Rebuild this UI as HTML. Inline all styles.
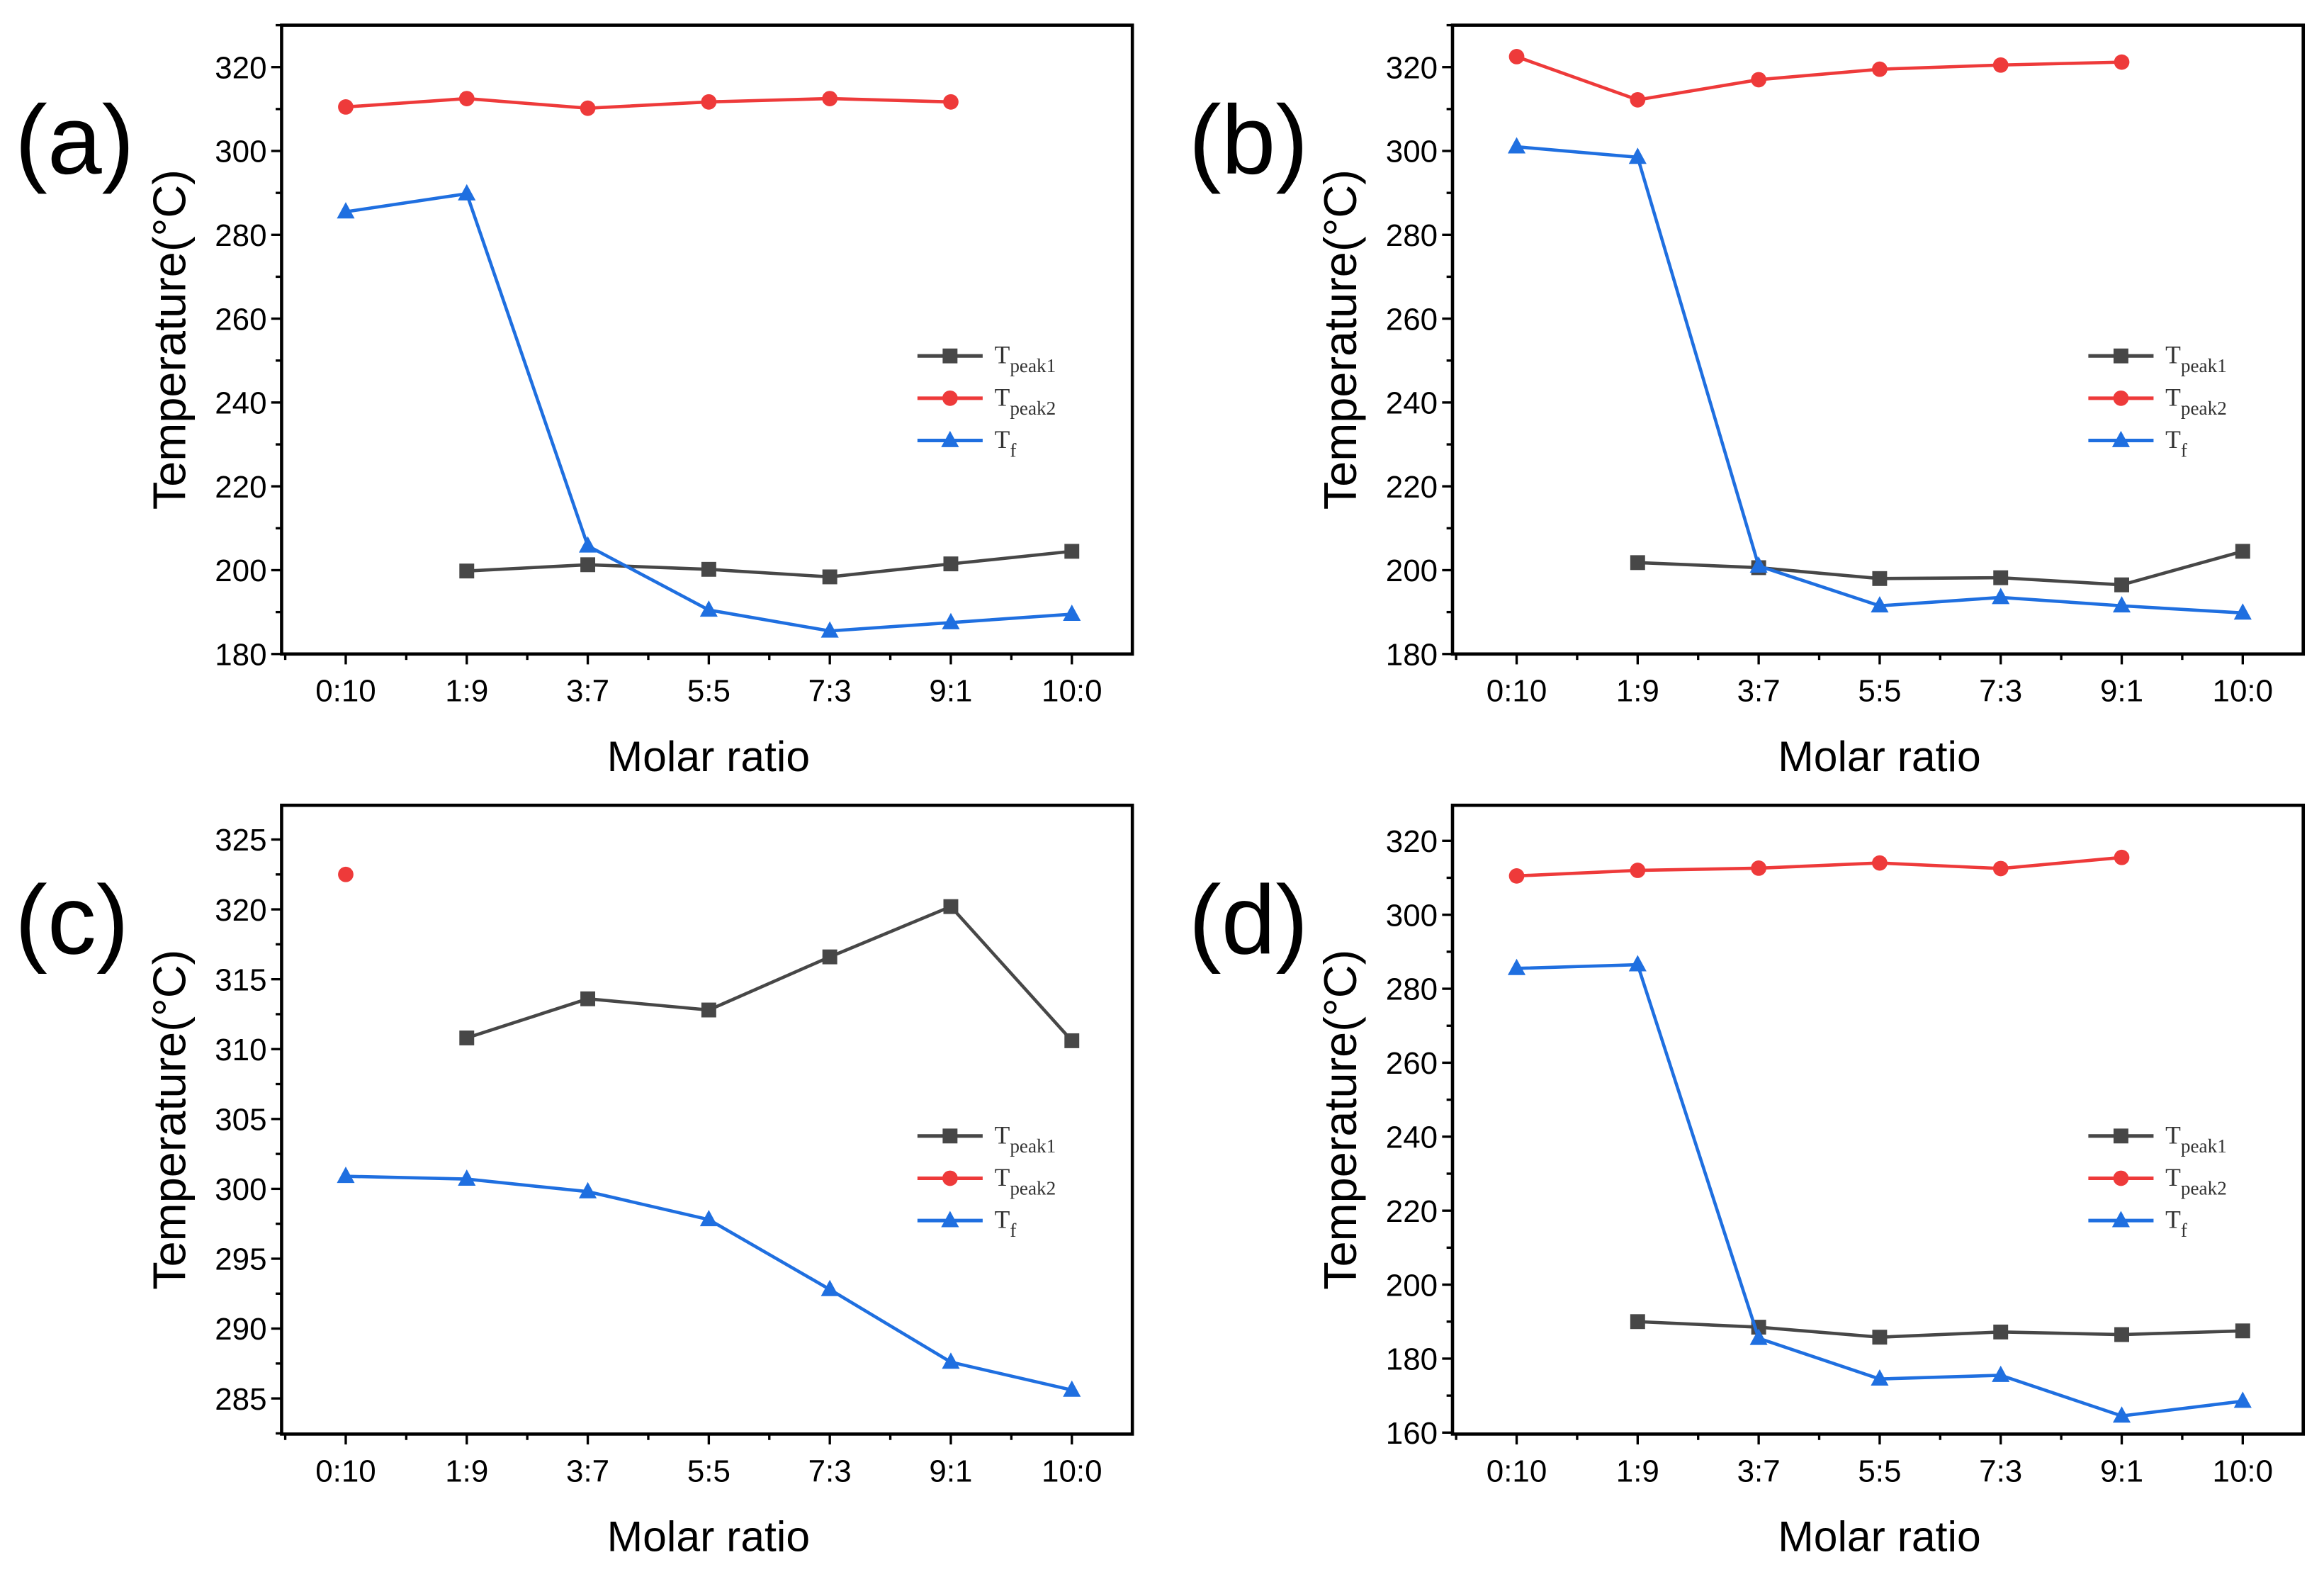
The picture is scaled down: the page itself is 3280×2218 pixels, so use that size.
<!DOCTYPE html>
<html><head><meta charset="utf-8"><style>
html,body{margin:0;padding:0;background:#fff;}
svg{display:block;}
</style></head>
<body>
<svg id="fig" width="3280" height="2218" viewBox="0 0 1568 1060" preserveAspectRatio="none" xmlns="http://www.w3.org/2000/svg"></svg>
<script>
const categories = ["0:10","1:9","3:7","5:5","7:3","9:1","10:0"];
// panel (a)
const aPeak1 = [null,199.8,201.3,200.2,198.4,201.5,204.5];
const aPeak2 = [310.5,312.5,310.2,311.7,312.5,311.7,null];
const aTf = [285.5,289.8,205.8,190.5,185.5,187.5,189.5];
const aTicks = [180,200,220,240,260,280,300,320];
// panel (b)
const bPeak1 = [null,201.8,200.6,198,198.2,196.5,204.5];
const bPeak2 = [322.5,312.2,317,319.5,320.5,321.2,null];
const bTf = [301,298.5,201,191.5,193.5,191.5,189.8];
const bTicks = [180,200,220,240,260,280,300,320];
// panel (c)
const cPeak1 = [null,310.8,313.6,312.8,316.6,320.2,310.6];
const cPeak2 = [322.5,null,null,null,null,null,null];
const cTf = [300.9,300.7,299.8,297.8,292.8,287.6,285.6];
const cTicks = [285,290,295,300,305,310,315,320,325];
// panel (d)
const dPeak1 = [null,190,188.5,185.8,187.2,186.5,187.5];
const dPeak2 = [310.5,312,312.6,314,312.5,315.5,null];
const dTf = [285.5,286.5,185.5,174.5,175.5,164.5,168.5];
const dTicks = [160,180,200,220,240,260,280,300,320];

const NS="http://www.w3.org/2000/svg";
const svg=document.getElementById('fig');
function mk(tag,attrs,parent){const e=document.createElementNS(NS,tag);for(const k in attrs)e.setAttribute(k,attrs[k]);(parent||svg).appendChild(e);return e;}

const panels=[
 {id:'a',L:190,T:17,R:764,B:441,ymin:180,ymax:330,minor:10,ticks:aTicks,p1:aPeak1,p2:aPeak2,tf:aTf},
 {id:'b',L:980,T:17,R:1554,B:441,ymin:180,ymax:330,minor:10,ticks:bTicks,p1:bPeak1,p2:bPeak2,tf:bTf},
 {id:'c',L:190,T:543,R:764,B:967,ymin:282.45,ymax:327.45,minor:2.5,ticks:cTicks,p1:cPeak1,p2:cPeak2,tf:cTf},
 {id:'d',L:980,T:543,R:1554,B:967,ymin:159.6,ymax:329.6,minor:10,ticks:dTicks,p1:dPeak1,p2:dPeak2,tf:dTf}
];
const colors={p1:'#474747',p2:'#ee3a3a',tf:'#1f6fe0'};

panels.forEach(P=>{
 const g=mk('g',{});
 
 
 const xs=i=>P.L+(i+0.53)*(P.R-P.L)/7.03;
 const ys=v=>P.B-(v-P.ymin)/(P.ymax-P.ymin)*(P.B-P.T);
 const fr=mk('rect',{x:P.L,y:P.T,width:P.R-P.L,height:P.B-P.T,fill:'none',stroke:'#000','stroke-width':2.2},g);
 
 
 const t0=P.ticks[0]-P.minor*Math.ceil((P.ticks[0]-P.ymin)/P.minor);
 for(let v=t0; v<=P.ymax+1e-6; v+=P.minor){
   if(v<P.ymin-1e-6) continue;
   const major=P.ticks.some(t=>Math.abs(t-v)<1e-6);
   mk('line',{x1:P.L,x2:P.L-(major?7:4),y1:ys(v),y2:ys(v),stroke:'#000','stroke-width':1.6},g);
 }
 P.ticks.forEach(t=>{
   const tx=mk('text',{x:P.L-10,y:ys(t)+7.5,'text-anchor':'end','font-size':21,'font-family':'Liberation Sans, sans-serif'},g);
   tx.textContent=t;
   
   
 });
 categories.forEach((c,i)=>{
   mk('line',{x1:xs(i),x2:xs(i),y1:P.B,y2:P.B+7,stroke:'#000','stroke-width':1.6},g);
   if(i<6) mk('line',{x1:xs(i+0.5),x2:xs(i+0.5),y1:P.B,y2:P.B+4,stroke:'#000','stroke-width':1.6},g);
   const tx=mk('text',{x:xs(i),y:P.B+32,'text-anchor':'middle','font-size':21,'font-family':'Liberation Sans, sans-serif'},g);
   tx.textContent=c;
   
   
 });
 mk('line',{x1:xs(-0.5),x2:xs(-0.5),y1:P.B,y2:P.B+4,stroke:'#000','stroke-width':1.6},g);
 const xt=mk('text',{x:(P.L+P.R)/2+1,y:P.B+79,'text-anchor':'middle','font-size':29,'font-family':'Liberation Sans, sans-serif'},g);
 xt.textContent='Molar ratio';
 
 
 const cy=(P.T+P.B)/2, cx=P.L-65;
 const yt=mk('text',{x:cx,y:cy,transform:`rotate(-90 ${cx} ${cy})`,'text-anchor':'middle','font-size':31,'font-family':'Liberation Sans, sans-serif'},g);
 yt.textContent='Temperature(°C)';
 
 
 const pl=mk('text',{x:P.L-180+(P.id==='d'||P.id==='b'?2:0),y:P.T+100,'font-size':66,'font-family':'Liberation Sans, sans-serif'},g);
 pl.textContent='('+P.id+')';
 
 
 [['p1',P.p1],['p2',P.p2],['tf',P.tf]].forEach(([k,arr])=>{
   const col=colors[k];
   const sg=mk('g',{},g);
   
   
   let d='',pen=false;
   arr.forEach((v,i)=>{ if(v==null){pen=false;return;} d+=(pen?'L':'M')+xs(i)+' '+ys(v)+' '; pen=true;});
   if(d) mk('path',{d:d,fill:'none',stroke:col,'stroke-width':2.2},sg);
   arr.forEach((v,i)=>{ if(v==null) return; marker(k,xs(i),ys(v),col,sg);});
 });
 const lx=P.R-145, ly0=P.T+223;
 [['p1','peak1'],['p2','peak2'],['tf','f']].forEach(([k,sub],j)=>{
   const ly=ly0+j*28.5;
   const lg=mk('g',{},g);
   
   
   mk('line',{x1:lx,x2:lx+44,y1:ly,y2:ly,stroke:colors[k],'stroke-width':2.4},lg);
   marker(k,lx+22,ly,colors[k],lg);
   const t=mk('text',{x:lx+52,y:ly+5,'font-size':17,'font-family':'Liberation Serif, serif',fill:'#333'},lg);
   t.textContent='T';
   const s=mk('tspan',{dy:6,'font-size':13},t);
   s.textContent=sub;
 });
});
function marker(k,x,y,col,parent){
 if(k==='p1') mk('rect',{x:x-5,y:y-5,width:10,height:10,fill:col},parent);
 else if(k==='p2') mk('circle',{cx:x,cy:y,r:5.2,fill:col},parent);
 else mk('polygon',{points:`${x},${y-6.5} ${x-6},${y+4.5} ${x+6},${y+4.5}`,fill:col},parent);
}
</script>
</body></html>
